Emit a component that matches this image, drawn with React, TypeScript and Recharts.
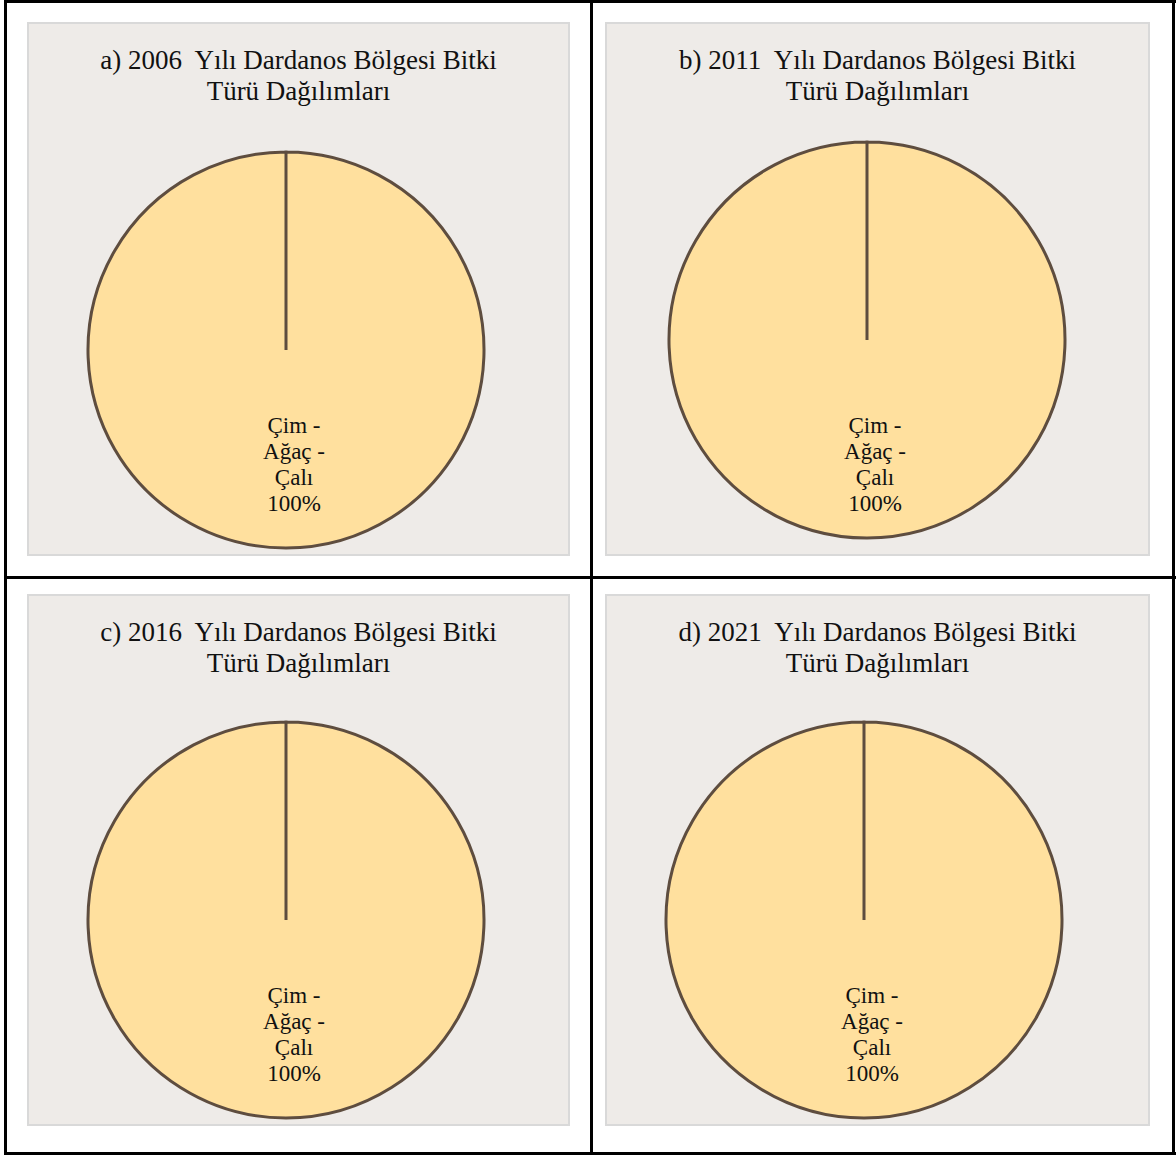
import React from "react";
import { PieChart, Pie, Cell } from "recharts";

const PANEL_LETTERS = ["a", "b", "c", "d"];
const YEARS = ["2006", "2011", "2016", "2021"];
const CATEGORIES = ["Çim - Ağaç - Çalı"];
const SHARES_2006 = [100];
const SHARES_2011 = [100];
const SHARES_2016 = [100];
const SHARES_2021 = [100];
const TITLE_LINE_2 = "Türü Dağılımları";

const SERIES = [SHARES_2006, SHARES_2011, SHARES_2016, SHARES_2021];

const FONT = '"Liberation Serif", "Times New Roman", Times, "DejaVu Serif", serif';
const FILL = "#FFE09E";
const STROKE = "#5E4D3F";

type Layout = { left: number; top: number; width: number; height: number; cx: number; cy: number; labelDy: number };

const LAYOUTS: Layout[] = [
  { left: 27, top: 22, width: 543, height: 534, cx: 259, cy: 328, labelDy: 0 },
  { left: 605, top: 22, width: 545, height: 534, cx: 262, cy: 318, labelDy: 10 },
  { left: 27, top: 594, width: 543, height: 532, cx: 259, cy: 326, labelDy: 0 },
  { left: 605, top: 594, width: 545, height: 532, cx: 259, cy: 326, labelDy: 0 },
];

const makeLabel = (labelDy: number) => (props: any) => {
  const { cx, cy, outerRadius, name, percent } = props;
  const parts = String(name).split(" - ");
  const lines = parts.map((p, i) => (i < parts.length - 1 ? `${p} -` : p));
  lines.push(`${Math.round(percent * 100)}%`);
  const x = cx + 8;
  const y0 = cy + outerRadius * 0.42 + labelDy;
  return (
    <text x={x} y={y0} textAnchor="middle" fontFamily={FONT} fontSize={23} fill="#111">
      {lines.map((l, i) => (
        <tspan key={i} x={x} dy={i === 0 ? 0 : 26}>
          {l}
        </tspan>
      ))}
    </text>
  );
};

function Panel({ idx }: { idx: number }) {
  const lay = LAYOUTS[idx];
  const data = CATEGORIES.map((c, i) => ({ name: c, value: SERIES[idx][i] }));
  return (
    <div
      style={{
        position: "absolute",
        left: lay.left,
        top: lay.top,
        width: lay.width,
        height: lay.height,
        boxSizing: "border-box",
        border: "2px solid #d9d9d9",
        background: "#EEEBE8",
      }}
    >
      <div
        style={{
          position: "absolute",
          left: 0,
          top: 21,
          width: "100%",
          textAlign: "center",
          fontFamily: FONT,
          fontSize: 27,
          lineHeight: "31px",
          color: "#111",
          whiteSpace: "pre",
        }}
      >
        {`${PANEL_LETTERS[idx]}) ${YEARS[idx]}  Yılı Dardanos Bölgesi Bitki`}
        <br />
        {TITLE_LINE_2}
      </div>
      <div style={{ position: "absolute", left: -2, top: -2 }}>
        <PieChart width={lay.width} height={lay.height} margin={{ top: 0, right: 0, bottom: 0, left: 0 }}>
          <Pie
            data={data}
            dataKey="value"
            nameKey="name"
            cx={lay.cx}
            cy={lay.cy}
            outerRadius={198}
            startAngle={90}
            endAngle={-270}
            stroke={STROKE}
            strokeWidth={3}
            label={makeLabel(lay.labelDy)}
            labelLine={false}
            isAnimationActive={false}
          >
            {data.map((d, i) => (
              <Cell key={i} fill={FILL} stroke={STROKE} strokeWidth={3} />
            ))}
          </Pie>
        </PieChart>
      </div>
    </div>
  );
}

const bar = (left: number, top: number, width: number, height: number) => (
  <div style={{ position: "absolute", left, top, width, height, background: "#000" }} />
);

export default function App() {
  return (
    <div style={{ position: "absolute", left: 0, top: 0, width: 1176, height: 1155, background: "#fff" }}>
      {[0, 1, 2, 3].map((i) => (
        <Panel key={i} idx={i} />
      ))}
      {bar(4, 0, 1172, 3)}
      {bar(4, 1152, 1172, 3)}
      {bar(4, 0, 3, 1155)}
      {bar(1172, 0, 3, 1155)}
      {bar(590, 0, 3, 1155)}
      {bar(4, 576, 1172, 3)}
    </div>
  );
}
